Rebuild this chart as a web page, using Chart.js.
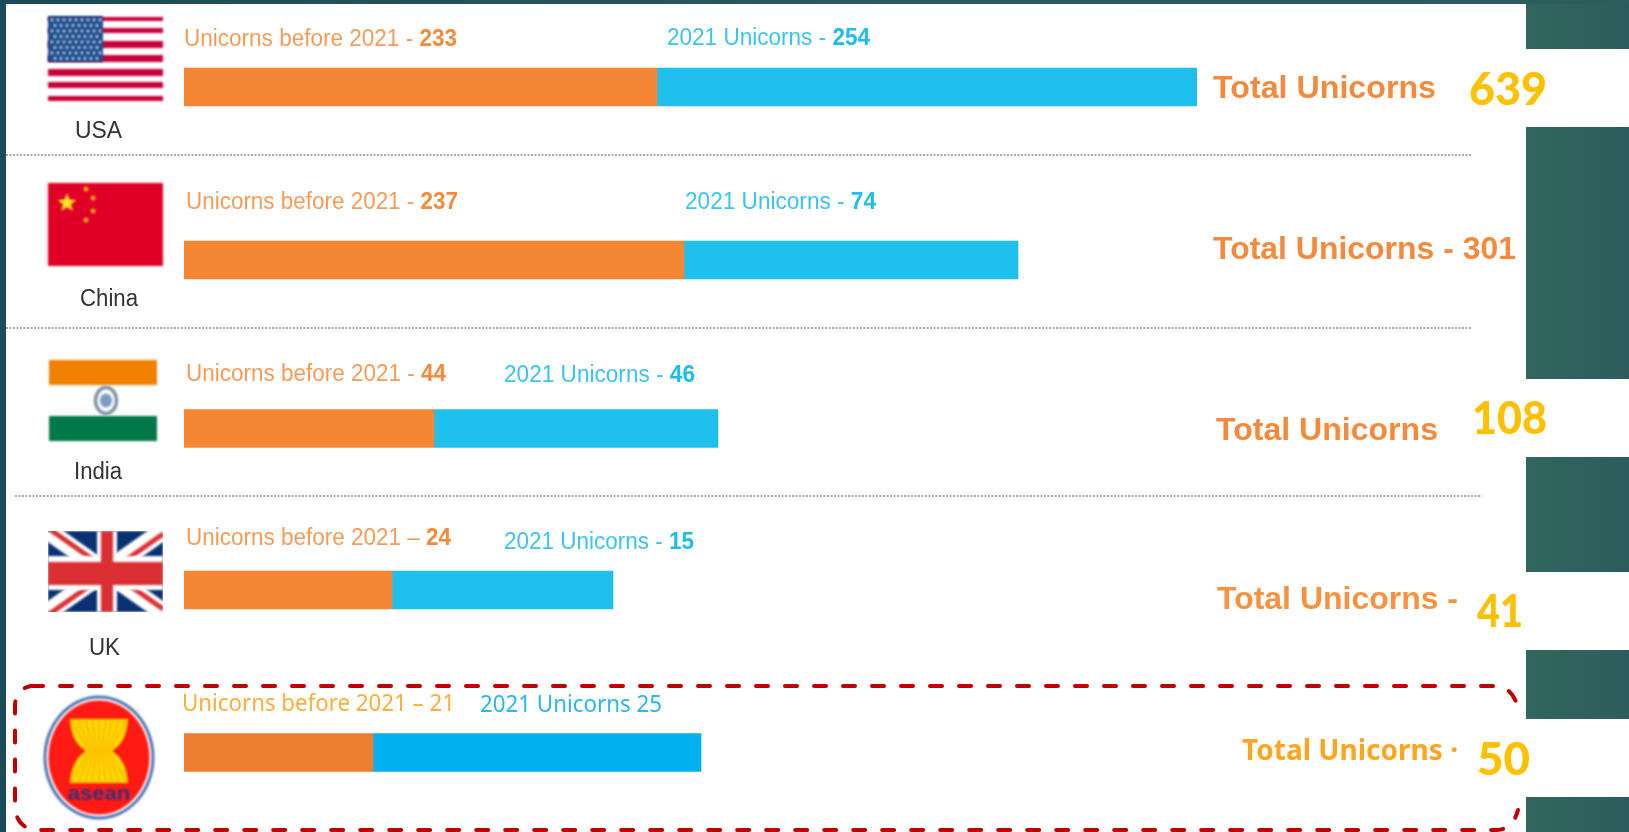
<!DOCTYPE html>
<html><head><meta charset="utf-8">
<style>html,body{margin:0;padding:0;background:#fff}canvas{display:block}</style>
<script src="https://cdn.jsdelivr.net/npm/chart.js@4/dist/chart.umd.min.js"></script>
</head><body><canvas id="c" width="1629" height="832"></canvas>
<script>
// ---- data -------------------------------------------------------------
const countries   = ['USA','China','India','UK','ASEAN'];
const before2021  = [233,237,44,24,21];      // labelled counts
const in2021      = [254,74,46,15,25];       // labelled counts
const totals      = [639,301,108,41,50];     // labelled totals
// The source infographic is not drawn to scale: these are the bar lengths.
const drawnBefore = [473,500,250,208,189];
const drawnIn2021 = [540,334,284,221,328];
const beforeColors= ['#F58634','#F58634','#F58634','#F58634','#ED7D31'];
const in2021Colors= ['#1FC0EE','#1FC0EE','#1FC0EE','#1FC0EE','#00B0F0'];

// ---- layout (not data) --------------------------------------------------
const rowCenters = [87,260,428.5,590,752.5];
const BAR_LEFT = 184, BAR_RIGHT = 1197;
const SANS = '"Liberation Sans", Arial, sans-serif';

class RowScale extends Chart.CategoryScale {
  getPixelForValue(value, index){
    const i = typeof value === 'number' ? value : (index ?? this.parse(value));
    return rowCenters[Math.round(i)];
  }
}
RowScale.id = 'rows';
RowScale.defaults = Chart.CategoryScale.defaults;
Chart.register(RowScale);

function blurred(ctx, px, fn){ ctx.save(); ctx.filter = `blur(${px}px)`; fn(); ctx.restore(); }

// Draw runs of text squeezed/stretched to a measured span
function runs(ctx, segs, x0, x1, cy, size){
  ctx.save();
  ctx.textBaseline = 'middle'; ctx.textAlign = 'left';
  let w = 0;
  segs.forEach(s => { ctx.font = `${s.w||400} ${size}px ${s.f||SANS}`; w += ctx.measureText(s.t).width; });
  const k = (x1-x0)/w;
  ctx.translate(x0, cy); ctx.scale(k,1);
  let x = 0;
  segs.forEach(s => { ctx.font = `${s.w||400} ${size}px ${s.f||SANS}`; ctx.fillStyle = s.c; ctx.fillText(s.t, x, 0); x += ctx.measureText(s.t).width; });
  ctx.restore();
}

const background = { id:'background', beforeDraw(chart){
  const c = chart.ctx, W = chart.width, H = chart.height;
  let g = c.createLinearGradient(0,0,W,0);
  g.addColorStop(0,'#1b4a58'); g.addColorStop(.5,'#28595e'); g.addColorStop(1,'#2c5e5d');
  c.fillStyle = g; c.fillRect(0,0,W,H);
  c.fillStyle = '#fff'; c.fillRect(6,4,1520,828);
  c.fillRect(1526,49,103,78); c.fillRect(1526,379,103,78); c.fillRect(1526,572,103,78); c.fillRect(1526,719,103,78);
  g = c.createLinearGradient(1526,0,1629,0);
  g.addColorStop(0,'#31665f'); g.addColorStop(1,'#2c5d5c');
  c.fillStyle = g;
  [[4,49],[127,379],[457,572],[650,719],[797,832]].forEach(([a,b]) => c.fillRect(1526,a,103,b-a));
  // dotted separators
  c.save(); c.strokeStyle = '#a9a9a9'; c.lineWidth = 2; c.setLineDash([2,1.5]);
  [[6,1472,155],[6,1472,328],[15,1482,496]].forEach(([a,b,y]) => { c.beginPath(); c.moveTo(a,y); c.lineTo(b,y); c.stroke(); });
  c.restore();
  blurred(c,.8,() => drawFlags(c));
}};

function star(c,x,y,r,col){
  c.fillStyle = col; c.beginPath();
  for(let i=0;i<10;i++){ const a=-Math.PI/2+i*Math.PI/5, q=i%2?r*.42:r; c.lineTo(x+q*Math.cos(a),y+q*Math.sin(a)); }
  c.closePath(); c.fill();
}
function drawFlags(c){
  // USA
  c.fillStyle='#fff'; c.fillRect(48,16,115,85);
  c.fillStyle='#C8003C';
  [[17,21],[28,33],[41,48],[55,62],[69,76],[82,88],[96,101]].forEach(([a,b]) => c.fillRect(48,a,115,b-a));
  c.fillStyle='#1F4E8C'; c.fillRect(48,16,55,46);
  c.fillStyle='#cfdcf0';
  for(let r=0;r<8;r++) for(let k=0;k<(r%2?8:9);k++){ c.beginPath(); c.arc(52+k*6+(r%2?3:0),20+r*5.5,1.4,0,7); c.fill(); }
  // China
  c.fillStyle='#E00025'; c.fillRect(48,183,115,83);
  star(c,67,203,10,'#FFE225');
  [[86,189],[93,198],[93,211],[86,220]].forEach(([x,y]) => star(c,x,y,3.6,'#FFCC20'));
  // India
  c.fillStyle='#F08000'; c.fillRect(49,360,108,25);
  c.fillStyle='#00784A'; c.fillRect(49,416,108,25);
  c.strokeStyle='#7f93a8'; c.lineWidth=3.5; c.beginPath(); c.ellipse(106,400.5,10.5,13,0,0,7); c.stroke();
  c.fillStyle='#7f9cc0'; c.beginPath(); c.ellipse(106,400.5,6,7,0,0,7); c.fill();
  // UK
  c.save(); c.beginPath(); c.rect(48,531,115,81); c.clip();
  c.fillStyle='#0A3273'; c.fillRect(48,531,115,81);
  const L=48,R=163,T=531,B=612;
  c.strokeStyle='#fff'; c.lineWidth=18;
  c.beginPath(); c.moveTo(L,T); c.lineTo(R,B); c.moveTo(R,T); c.lineTo(L,B); c.stroke();
  c.strokeStyle='#DC2F34'; c.lineWidth=5;
  c.beginPath(); c.moveTo(L,T-3); c.lineTo(R,B-3); c.moveTo(R,T+3); c.lineTo(L,B+3); c.stroke();
  c.fillStyle='#fff'; c.fillRect(97,T,20,81); c.fillRect(L,556,115,34);
  c.fillStyle='#DC2F34'; c.fillRect(101,T,12,81); c.fillRect(L,562,115,23);
  c.restore();
  // ASEAN
  c.fillStyle='#4A76B4'; c.beginPath(); c.ellipse(99,757.5,55.5,62,0,0,7); c.fill();
  c.fillStyle='#fff'; c.beginPath(); c.ellipse(99,757.5,52.5,59,0,0,7); c.fill();
  c.fillStyle='#FF1A14'; c.beginPath(); c.ellipse(99,757.5,50.5,57,0,0,7); c.fill();
  c.save();
  c.beginPath(); c.moveTo(70,719); c.lineTo(128,719);
  c.bezierCurveTo(127,738,120,746,112,751); c.bezierCurveTo(120,756,127,765,128,783);
  c.lineTo(70,783); c.bezierCurveTo(71,765,78,756,86,751); c.bezierCurveTo(78,746,71,738,70,719); c.closePath();
  c.fillStyle='#FFD800'; c.fill(); c.clip();
  c.strokeStyle='#F5A000'; c.lineWidth=1;
  for(let k=-4;k<=4;k++){ c.beginPath(); c.moveTo(99+k*7,719); c.quadraticCurveTo(99+k*2.5,751,99+k*2.5,751); c.quadraticCurveTo(99+k*2.5,751,99+k*7,783); c.stroke(); }
  c.restore();
  c.save(); c.translate(99,794); c.scale(1.05,1);
  c.fillStyle='#2F2F7E'; c.font=`700 21px "Liberation Sans"`; c.textAlign='center'; c.textBaseline='middle';
  c.fillText('asean',0,0); c.restore();
}

const annotations = { id:'annotations', afterDraw(chart){
  const c = chart.ctx;
  const OR='#F79B58', ORB='#F58A3C', BL='#3CC4EE', BLB='#1FBDEE';
  blurred(c,.7,() => {
    const rows = [
      [`Unicorns before 2021 - `,before2021[0],184,457,40, `2021 Unicorns - `,in2021[0],667,870,39],
      [`Unicorns before 2021 - `,before2021[1],186,458,203, `2021 Unicorns - `,in2021[1],685,876,203],
      [`Unicorns before 2021 - `,before2021[2],186,446,375, `2021 Unicorns - `,in2021[2],504,695,376],
      [`Unicorns before 2021 \u2013 `,before2021[3],186,451,539, `2021 Unicorns - `,in2021[3],504,694,543]
    ];
    rows.forEach(r => {
      runs(c,[{t:r[0],c:OR},{t:String(r[1]),c:ORB,w:700}],r[2],r[3],r[4],23);
      runs(c,[{t:r[5],c:BL},{t:String(r[6]),c:BLB,w:700}],r[7],r[8],r[9],23);
    });
    runs(c,[{t:countries[0],c:'#333'}],75,122,132,23);
    runs(c,[{t:countries[1],c:'#333'}],80,138,300,23);
    runs(c,[{t:countries[2],c:'#333'}],74,122,473,23);
    runs(c,[{t:countries[3],c:'#333'}],89,120,649,23);
    runs(c,[{t:'Total Unicorns',c:ORB,w:700}],1213,1436,89,32);
    runs(c,[{t:'Total Unicorns - '+totals[1],c:ORB,w:700}],1213,1516,250,32);
    runs(c,[{t:'Total Unicorns',c:ORB,w:700}],1216,1438,431,32);
    runs(c,[{t:'Total Unicorns -',c:'#F79240',w:700}],1217,1458,600,32);
  });
  blurred(c,.4,() => {
    const F='"Noto Sans", sans-serif';
    runs(c,[{t:`Unicorns before 2021 \u2013 ${before2021[4]}`,c:'#FFAE3C',f:F}],182,455,704,23);
    runs(c,[{t:`2021 Unicorns ${in2021[4]}`,c:'#2BB6F0',f:F}],480,662,705,23);
    runs(c,[{t:'Total Unicorns \u00B7',c:'#FFA51F',w:700,f:F}],1242,1458,752,29);
  });
  const Y='#FFC000';
  runs(c,[{t:String(totals[0]),c:Y,w:900,f:'Lato'}],1469,1547,90,46);
  runs(c,[{t:String(totals[2]),c:Y,w:900,f:'Lato'}],1472,1547,419,46);
  runs(c,[{t:String(totals[3]),c:Y,w:900,f:'Lato'}],1477,1523,612,46);
  runs(c,[{t:String(totals[4]),c:Y,w:900,f:'Lato'}],1477,1530,760,46);
  // red dashed frame (its right side is interrupted in the source)
  c.save(); c.strokeStyle='#C00000'; c.lineWidth=4; c.lineCap='round'; c.setLineDash([12,17]);
  c.beginPath(); c.moveTo(31,686); c.lineTo(1497,686); c.quadraticCurveTo(1513,688,1518,708); c.stroke();
  c.lineDashOffset=4;
  c.beginPath(); c.moveTo(1518,810); c.quadraticCurveTo(1513,829,1497,830); c.lineTo(36,830); c.quadraticCurveTo(17,828,15,808); c.lineTo(15,705); c.quadraticCurveTo(16,689,31,686); c.stroke();
  c.restore();
}};

new Chart(document.getElementById('c'), {
  type:'bar',
  data:{ labels:countries, datasets:[
    {label:'Unicorns before 2021', data:drawnBefore, backgroundColor:beforeColors, barThickness:38, stack:'s'},
    {label:'2021 Unicorns', data:drawnIn2021, backgroundColor:in2021Colors, barThickness:38, stack:'s'}
  ]},
  options:{
    indexAxis:'y', responsive:false, animation:false, events:[],
    layout:{padding:{left:BAR_LEFT,right:1629-BAR_RIGHT,top:0,bottom:0}},
    plugins:{legend:{display:false},tooltip:{enabled:false},title:{display:false}},
    scales:{
      x:{type:'linear',stacked:true,min:0,max:BAR_RIGHT-BAR_LEFT,display:false},
      y:{type:'rows',stacked:true,display:false}
    }
  },
  plugins:[background,annotations]
});
</script></body></html>
